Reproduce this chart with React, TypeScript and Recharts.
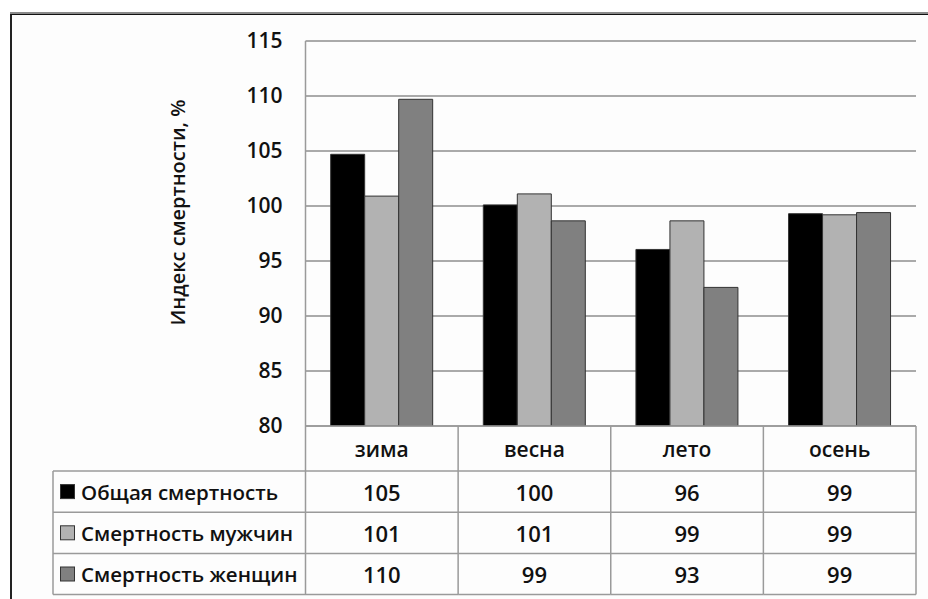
import React from "react";
import { Bar, BarChart, CartesianGrid, XAxis, YAxis } from "recharts";

const seasons = ["зима", "весна", "лето", "осень"];
const totalMortality = [104.7, 100.1, 96.05, 99.3];
const maleMortality = [100.9, 101.1, 98.65, 99.2];
const femaleMortality = [109.7, 98.65, 92.6, 99.4];
const seriesNames = ["Общая смертность", "Смертность мужчин", "Смертность женщин"];
const yTicks = [80, 85, 90, 95, 100, 105, 110, 115];

const colors = ["#000000", "#b2b2b2", "#808080"];
const keys = ["total", "male", "female"];
const data = seasons.map((s, i) => ({
  season: s,
  total: totalMortality[i],
  male: maleMortality[i],
  female: femaleMortality[i],
}));

const W = 928;
const H = 599;
const PLOT_LEFT = 305.5;
const PLOT_RIGHT = 916;
const PLOT_TOP = 41;
const PLOT_BOTTOM = 426;
const BAND = (PLOT_RIGHT - PLOT_LEFT) / seasons.length;
const HEADER_H = 45;
const ROW_H = 41.2;
const TABLE_LEFT = 53;
const LINE = "#9a9a9a";
const FONT = "'Open Sans', sans-serif";
const WEIGHT = 600;

function TableTick(props: any) {
  const { x, y, payload, index } = props;
  const left = x - BAND / 2;
  const right = x + BAND / 2;
  const bottom = y + HEADER_H + ROW_H * 3;
  const row = data[index];
  const cells = keys.map((k) => Math.round((row as any)[k]));
  return (
    <g>
      <line x1={left} y1={y} x2={left} y2={bottom} stroke={LINE} strokeWidth={1.5} />
      {index === seasons.length - 1 && (
        <line x1={right} y1={y} x2={right} y2={bottom} stroke={LINE} strokeWidth={1.5} />
      )}
      {[0, 1, 2, 3].map((r) => (
        <line
          key={r}
          x1={index === 0 ? TABLE_LEFT : left}
          y1={y + HEADER_H + ROW_H * r}
          x2={right}
          y2={y + HEADER_H + ROW_H * r}
          stroke={LINE}
          strokeWidth={1.5}
        />
      ))}
      <text x={x} y={y + HEADER_H / 2} textAnchor="middle" dominantBaseline="central" fontSize={21} fontWeight={WEIGHT} fill="#111" fontFamily={FONT}>
        {payload.value}
      </text>
      {cells.map((v, r) => (
        <text key={r} x={x} y={y + HEADER_H + ROW_H * r + ROW_H / 2} textAnchor="middle" dominantBaseline="central" fontSize={22} fontWeight={WEIGHT} fill="#111" fontFamily={FONT}>
          {v}
        </text>
      ))}
      {index === 0 && (
        <g>
          <line x1={TABLE_LEFT} y1={y + HEADER_H} x2={TABLE_LEFT} y2={bottom} stroke={LINE} strokeWidth={1.5} />
          {seriesNames.map((name, r) => {
            const cy = y + HEADER_H + ROW_H * r + ROW_H / 2;
            return (
              <g key={name}>
                <rect x={60.5} y={cy - 7} width={14} height={14} fill={colors[r]} stroke="#333" strokeWidth={1} />
                <text x={81} y={cy} dominantBaseline="central" fontSize={20.5} fontWeight={WEIGHT} fill="#111" fontFamily={FONT}>
                  {name}
                </text>
              </g>
            );
          })}
        </g>
      )}
    </g>
  );
}

function YLabel(props: any) {
  const { viewBox } = props;
  const cx = viewBox.x + 177;
  const cy = viewBox.y + viewBox.height / 2 - 21;
  return (
    <text x={cx} y={cy} transform={`rotate(-90 ${cx} ${cy})`} textAnchor="middle" dominantBaseline="central" fontSize={20} fontWeight={WEIGHT} fill="#111" fontFamily={FONT}>
      Индекс смертности, %
    </text>
  );
}

export default function App() {
  return (
    <div style={{ position: "absolute", left: 0, top: 0, width: W, height: H, background: "#fff", overflow: "hidden" }}>
      <div style={{ position: "absolute", left: 10, top: 12, width: 940, height: 620, borderTop: "2px solid #8a8a8a" }}>
        <div style={{ height: "100%", borderTop: "1.5px solid #111", borderLeft: "2px solid #222", background: "#fdfdfd" }} />
      </div>
      <div style={{ position: "absolute", left: 0, top: 0 }}>
        <BarChart
          width={W}
          height={H}
          data={data}
          margin={{ top: PLOT_TOP, right: W - PLOT_RIGHT, bottom: 0, left: 0 }}
          barCategoryGap="16.5%"
          barGap={0}
        >
          <CartesianGrid vertical={false} stroke="#8e8e8e" strokeWidth={1.5} />
          <XAxis
            dataKey="season"
            height={H - PLOT_BOTTOM}
            axisLine={{ stroke: LINE, strokeWidth: 1.5 }}
            tickLine={false}
            tickSize={0}
            tickMargin={0}
            interval={0}
            tick={<TableTick />}
          />
          <YAxis
            width={PLOT_LEFT}
            domain={[80, 115]}
            ticks={yTicks}
            allowDataOverflow
            axisLine={{ stroke: LINE, strokeWidth: 1.5 }}
            tickLine={false}
            tickMargin={17}
            tick={{ fontSize: 21, fontWeight: WEIGHT, fill: "#111", fontFamily: FONT }}
            label={(p: any) => <YLabel {...p} />}
          />
          {keys.map((k, i) => (
            <Bar key={k} dataKey={k} name={seriesNames[i]} fill={colors[i]} stroke="#333" strokeWidth={1} isAnimationActive={false} />
          ))}
        </BarChart>
      </div>
    </div>
  );
}
